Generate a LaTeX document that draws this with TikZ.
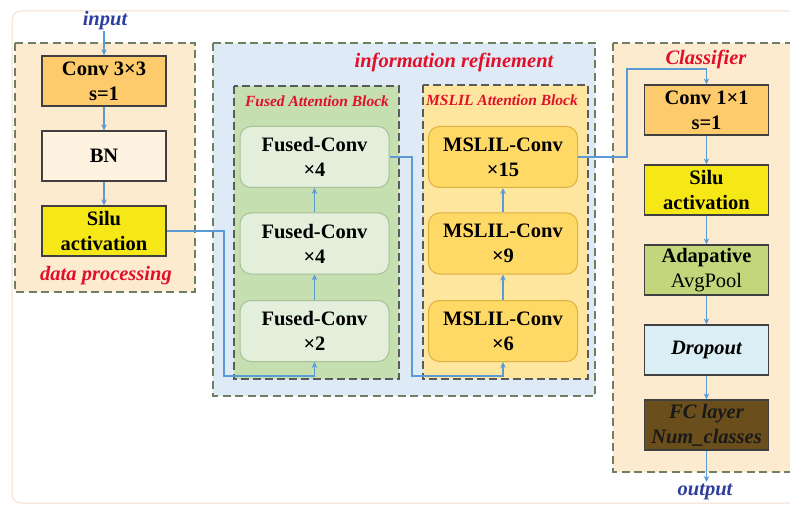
\documentclass[tikz,border=0pt]{standalone}
\usepackage{fontspec}
\setmainfont{Liberation Serif}
\usetikzlibrary{arrows.meta}
\definecolor{arrowblue}{HTML}{5B9BD5}
\definecolor{panelpeach}{HTML}{FDEBCF}
\definecolor{panelblue}{HTML}{DEEBF7}
\definecolor{panelgreen}{HTML}{C5DFB1}
\definecolor{panelorange}{HTML}{FFE69E}
\definecolor{dashgreen}{HTML}{6E7F62}
\definecolor{dashgray}{HTML}{5A5A5A}
\definecolor{convorange}{HTML}{FDCB6C}
\definecolor{bncream}{HTML}{FEF3E0}
\definecolor{siluyellow}{HTML}{F6E816}
\definecolor{fusedbox}{HTML}{E3EFDA}
\definecolor{fusededge}{HTML}{A8BF98}
\definecolor{mslilbox}{HTML}{FFD966}
\definecolor{msliledge}{HTML}{DDB043}
\definecolor{poolgreen}{HTML}{C4D67B}
\definecolor{dropblue}{HTML}{DAEEF5}
\definecolor{fcbrown}{HTML}{6A4E1C}
\definecolor{labelred}{HTML}{E0102A}
\definecolor{labelblue}{HTML}{2E3E9E}
\definecolor{framepink}{HTML}{F9DCCB}
\begin{document}
\begin{tikzpicture}[x=1pt,y=-1pt,
  txt/.style={font=\fontsize{20.5}{25}\selectfont\bfseries, align=center, inner sep=0pt},
  lbl/.style={font=\fontsize{20.5}{25}\selectfont\bfseries\itshape, inner sep=0pt},
  smalllbl/.style={font=\fontsize{15.5}{18}\selectfont\bfseries\itshape, text=labelred, inner sep=0pt},
  sqbox/.style={txt, draw=black!75, line width=1.3pt, minimum width=124pt, minimum height=50pt},
  rbox/.style={txt, rounded corners=11pt, line width=1pt, minimum width=149pt, minimum height=61pt},
  outerpanel/.style={draw=dashgreen, line width=1.8pt, dash pattern=on 8pt off 4.5pt},
  innerpanel/.style={draw=dashgray, line width=2.2pt, dash pattern=on 8pt off 4pt},
  arr/.style={draw=arrowblue, line width=1.4pt, -{Stealth[length=6pt,width=5.5pt]}}
]
\useasboundingbox (0,0) rectangle (790,505);
\clip (0,0) rectangle (790,505);
% outer frame
\draw[framepink, line width=1pt, rounded corners=9pt] (12,11) rectangle (810,503);

% panels
\fill[panelpeach] (15,43) rectangle (195,292);
\draw[outerpanel] (15,43) rectangle (195,292);
\fill[panelblue] (213,43) rectangle (595,396);
\draw[outerpanel] (213,43) rectangle (595,396);
\fill[panelpeach] (613,43) rectangle (805,472);
\draw[outerpanel] (613,43) rectangle (805,472);
\fill[panelgreen] (234,86) rectangle (399,379);
\draw[innerpanel] (234,86) rectangle (399,379);
\fill[panelorange] (423,85) rectangle (588,379);
\draw[innerpanel] (423,85) rectangle (588,379);

% labels
\node[lbl, text=labelblue] (inlbl) at (105,21) {input};
\node[lbl, text=labelred] (dplbl) at (106,276) {data processing};
\node[lbl, text=labelred] (irlbl) at (454,62) {information refinement};
\node[smalllbl] (falbl) at (317,101) {Fused Attention Block};
\node[smalllbl] (malbl) at (502,100) {MSLIL Attention Block};
\node[lbl, text=labelred] (cllbl) at (706,59) {Classifier};
\node[lbl, text=labelblue] (outlbl) at (705,492) {output};

% data processing
\node[sqbox, fill=convorange] (c3) at (104,81) {Conv 3×3\\s=1};
\node[sqbox, fill=bncream] (bn) at (104,156) {BN};
\node[sqbox, fill=siluyellow] (sil) at (104,231) {Silu\\activation};

% fused
\node[rbox, fill=fusedbox, draw=fusededge] (f1) at (314.5,157) {Fused-Conv\\×4};
\node[rbox, fill=fusedbox, draw=fusededge] (f2) at (314.5,243.5) {Fused-Conv\\×4};
\node[rbox, fill=fusedbox, draw=fusededge] (f3) at (314.5,331) {Fused-Conv\\×2};

% mslil
\node[rbox, fill=mslilbox, draw=msliledge] (m1) at (503,157) {MSLIL-Conv\\×15};
\node[rbox, fill=mslilbox, draw=msliledge] (m2) at (503,243.5) {MSLIL-Conv\\×9};
\node[rbox, fill=mslilbox, draw=msliledge] (m3) at (503,331) {MSLIL-Conv\\×6};

% classifier
\node[sqbox, fill=convorange] (k1) at (706.5,110) {Conv 1×1\\s=1};
\node[sqbox, fill=siluyellow] (k2) at (706.5,190) {Silu\\activation};
\node[sqbox, fill=poolgreen] (k3) at (706.5,270) {Adapative\\\mdseries AvgPool};
\node[sqbox, fill=dropblue] (k4) at (706.5,350) {\itshape Dropout};
\node[sqbox, fill=fcbrown, text=black!90] (k5) at (706.5,425) {\itshape FC layer\\\itshape Num\_classes};

% coordinates
\coordinate (inpt) at (104,31);
\coordinate (bendA) at (224,376);
\coordinate (bendB) at (412,376);
\coordinate (bendC) at (627,69);
\coordinate (outpt) at (706.5,482);

% connectors
\draw[arr] (inpt) -- (c3);
\draw[arr] (c3) -- (bn);
\draw[arr] (bn) -- (sil);
\draw[arr] (sil.east) -| (bendA) -| (f3.south);
\draw[arr] (f3) -- (f2);
\draw[arr] (f2) -- (f1);
\draw[arr] (f1.east) -| (bendB) -| (m3.south);
\draw[arr] (m3) -- (m2);
\draw[arr] (m2) -- (m1);
\draw[arr] (m1.east) -| (bendC) -| (k1.north);
\draw[arr] (k1) -- (k2);
\draw[arr] (k2) -- (k3);
\draw[arr] (k3) -- (k4);
\draw[arr] (k4) -- (k5);
\draw[arr] (k5) -- (outpt);
\end{tikzpicture}
\end{document}
